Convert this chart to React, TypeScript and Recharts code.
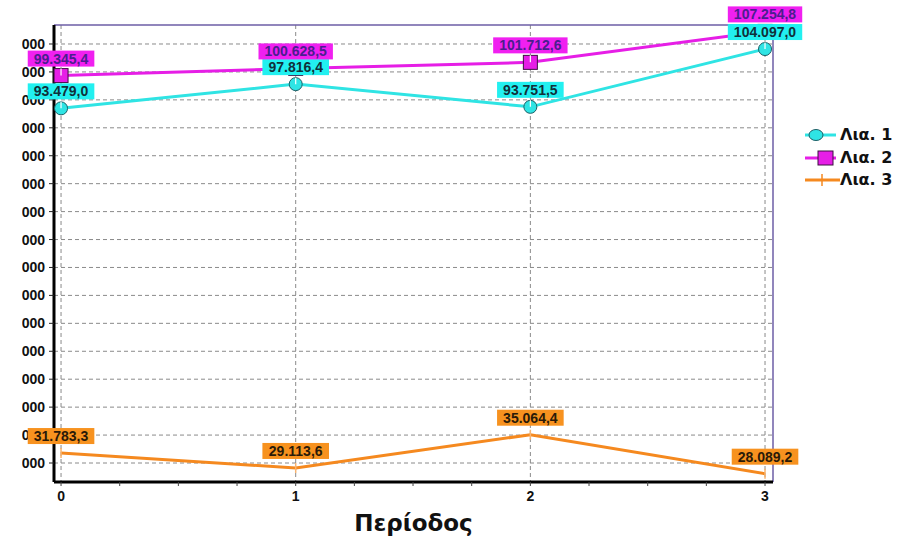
import { CartesianGrid, LabelList, Legend, Line, LineChart, ReferenceLine, XAxis, YAxis } from 'recharts';

const periods = [0, 1, 2, 3];
const lia1 = [93479.0, 97816.4, 93751.5, 104097.0];
const lia2 = [99345.4, 100628.5, 101712.6, 107254.8];
const lia3 = [31783.3, 29113.6, 35064.4, 28089.2];
const seriesNames = ['Λια. 1', 'Λια. 2', 'Λια. 3'];
const yTicks = [30000, 35000, 40000, 45000, 50000, 55000, 60000, 65000, 70000, 75000, 80000, 85000, 90000, 95000, 100000, 105000];
const xTicks = [0, 0.25, 0.5, 0.75, 1, 1.25, 1.5, 1.75, 2, 2.25, 2.5, 2.75, 3];

const data = periods.map((p, i) => ({ p, a: lia1[i], b: lia2[i], c: lia3[i] }));

const ARIAL = '"Liberation Sans", Arial, sans-serif';
const DEJAVU = '"DejaVu Sans", Verdana, sans-serif';
const CYAN = '#2fe4e4';
const MAGENTA = '#e61ee6';
const ORANGE = '#f5891f';
const Y_DOMAIN = [26600, 108400];
const X_DOMAIN = [-0.03, 3.034];

const groupThousands = (s: string) => s.replace(/\B(?=(\d{3})+(?!\d))/g, '.');
const fmt = (v: number) => {
  const [i, d] = v.toFixed(1).split('.');
  return groupThousands(i) + ',' + d;
};

const textWidth = (t: string) => [...t].reduce((w, ch) => w + (/\d/.test(ch) ? 7.8 : 3.9), 0);

const makeLabel = (bg: string, fg: string) => (props: any) => {
  const { x, y, value } = props;
  const t = fmt(Number(value));
  const w = textWidth(t) + 12;
  const bottom = y - 9;
  return (
    <g>
      <rect x={x - w / 2} y={bottom - 16} width={w} height={16} fill={bg} />
      <text x={x} y={bottom - 3} textAnchor="middle" fill={fg} fontSize={14} fontWeight={700} fontFamily={ARIAL}>
        {t}
      </text>
    </g>
  );
};

const CircleDot = (props: any) => {
  const { cx, cy } = props;
  return (
    <g>
      <circle cx={cx} cy={cy} r={6.5} fill={CYAN} stroke="#1d5f66" strokeWidth={1} />
      <line x1={cx} y1={cy - 6.5} x2={cx} y2={cy} stroke="#fff" strokeWidth={1.2} />
    </g>
  );
};

const SquareDot = (props: any) => {
  const { cx, cy } = props;
  return (
    <g>
      <rect x={cx - 7} y={cy - 7} width={14} height={14} fill={MAGENTA} stroke="#3d1040" strokeWidth={1} />
      <line x1={cx} y1={cy - 7} x2={cx} y2={cy} stroke="#fff" strokeWidth={1.2} />
    </g>
  );
};

const CrossDot = (props: any) => {
  const { cx, cy } = props;
  return <line x1={cx} y1={cy - 5} x2={cx} y2={cy + 5} stroke="#f8b470" strokeWidth={1.5} />;
};

const XTick = (props: any) => {
  const { x, y, payload } = props;
  if (!Number.isInteger(payload.value)) return <g />;
  return (
    <text x={x} y={y} dy="0.71em" textAnchor="middle" fill="#111" fontSize={14} fontWeight={700} fontFamily={ARIAL}>
      {payload.value}
    </text>
  );
};

const LegendIcon = ({ kind }: { kind: number }) => (
  <svg width={35} height={22} style={{ display: 'block' }}>
    {kind === 0 && (
      <>
        <line x1={0} y1={11} x2={31} y2={11} stroke={CYAN} strokeWidth={3} />
        <ellipse cx={11} cy={11} rx={7} ry={5.5} fill={CYAN} stroke="#1d5f66" />
      </>
    )}
    {kind === 1 && (
      <>
        <line x1={0} y1={11} x2={31} y2={11} stroke={MAGENTA} strokeWidth={3} />
        <rect x={13} y={4} width={15} height={14} fill={MAGENTA} stroke="#3d1040" />
      </>
    )}
    {kind === 2 && (
      <>
        <line x1={0} y1={11} x2={35} y2={11} stroke={ORANGE} strokeWidth={3} />
        <line x1={17} y1={5} x2={17} y2={17} stroke={ORANGE} strokeWidth={1.5} />
      </>
    )}
  </svg>
);

const renderLegend = () => (
  <div>
    {seriesNames.map((name, i) => (
      <div key={name} style={{ display: 'flex', alignItems: 'center', height: 22.5 }}>
        <LegendIcon kind={i} />
        <span style={{ fontFamily: DEJAVU, fontWeight: 700, fontSize: 16, color: '#111', lineHeight: '22px' }}>{name}</span>
      </div>
    ))}
  </div>
);

export default function App() {
  return (
    <div style={{ position: 'absolute', left: 22, top: 0, width: 887, height: 538, overflow: 'hidden', background: '#fff' }}>
      <LineChart width={887} height={538} data={data} margin={{ top: 25, right: 136, left: 0, bottom: 0 }}>
        <CartesianGrid
          stroke="#8a8a8a"
          strokeDasharray="4 3"
          verticalValues={periods}
          horizontalValues={yTicks}
        />
        <XAxis
          dataKey="p"
          type="number"
          domain={X_DOMAIN}
          ticks={xTicks}
          interval={0}
          height={56}
          axisLine={{ stroke: '#000', strokeWidth: 3 }}
          tickLine={{ stroke: '#444' }}
          tickSize={4}
          tickMargin={5}
          tick={<XTick />}
          label={{ value: 'Περίοδος', position: 'insideBottom', offset: 7, fill: '#111', fontSize: 23, fontWeight: 700, fontFamily: DEJAVU }}
        />
        <YAxis
          type="number"
          domain={Y_DOMAIN}
          ticks={yTicks}
          interval={0}
          width={32}
          axisLine={{ stroke: '#000', strokeWidth: 3 }}
          tickLine={{ stroke: '#222' }}
          tickSize={5}
          tickMargin={4}
          tickFormatter={(v: number) => groupThousands(String(v))}
          tick={{ fill: '#111', fontSize: 14, fontWeight: 700, fontFamily: ARIAL }}
        />
        <ReferenceLine y={Y_DOMAIN[1]} stroke="#6c5ea6" strokeWidth={1.5} />
        <ReferenceLine x={X_DOMAIN[1]} stroke="#6c5ea6" strokeWidth={1.5} />
        <Legend
          layout="vertical"
          align="center"
          verticalAlign="middle"
          wrapperStyle={{ left: 783, top: 124, width: 104 }}
          content={renderLegend}
        />
        <Line dataKey="a" name={seriesNames[0]} stroke={CYAN} strokeWidth={3} dot={<CircleDot />} isAnimationActive={false}>
          <LabelList dataKey="a" content={makeLabel('#22f0f0', '#10303a')} />
        </Line>
        <Line dataKey="b" name={seriesNames[1]} stroke={MAGENTA} strokeWidth={3} dot={<SquareDot />} isAnimationActive={false}>
          <LabelList dataKey="b" content={makeLabel('#f020f0', '#4a1e8e')} />
        </Line>
        <Line dataKey="c" name={seriesNames[2]} stroke={ORANGE} strokeWidth={3} dot={<CrossDot />} isAnimationActive={false}>
          <LabelList dataKey="c" content={makeLabel('#f7921f', '#2a1a08')} />
        </Line>
      </LineChart>
    </div>
  );
}
